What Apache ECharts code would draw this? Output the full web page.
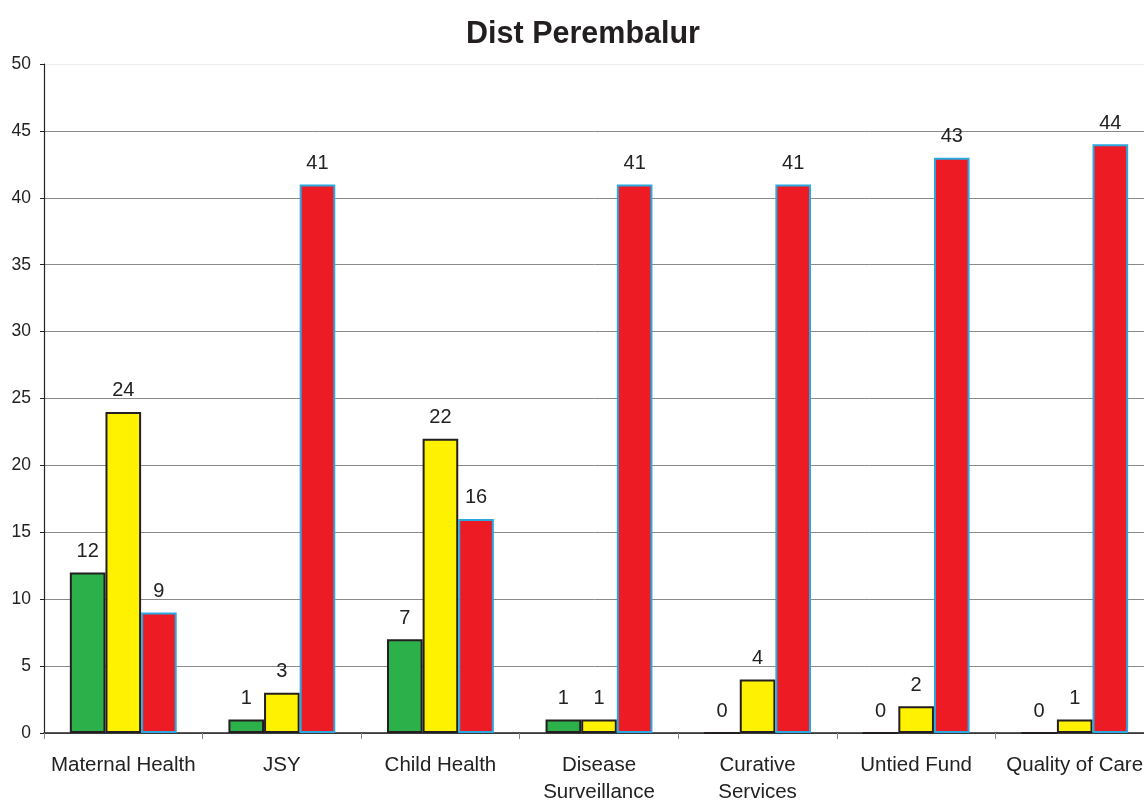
<!DOCTYPE html>
<html>
<head>
<meta charset="utf-8">
<script src="https://cdn.jsdelivr.net/npm/echarts@6/dist/echarts.min.js"></script>
<style>
  html, body { margin: 0; padding: 0; background: #fff; overflow: hidden; }
  #chart { width: 1144px; height: 802px; }
</style>
</head>
<body>
<div id="chart"></div>
<script>
// Programme areas assessed in the district
const categories = ['Maternal Health', 'JSY', 'Child Health', 'Disease\nSurveillance', 'Curative\nServices', 'Untied Fund', 'Quality of Care'];
const greenValues = [12, 1, 7, 1, 0, 0, 0];
const yellowValues = [24, 3, 22, 1, 4, 2, 1];
const redValues = [9, 41, 16, 41, 41, 43, 44];
const yTicks = { min: 0, max: 50, interval: 5 };

const chart = echarts.init(document.getElementById('chart'), null, { renderer: 'canvas', width: 1144, height: 802 });

const FONT = 'Liberation Sans, Arial, Helvetica, sans-serif';

const labelStyle = {
  show: true,
  position: 'top',
  distance: 11,
  color: '#222',
  fontSize: 20,
  fontFamily: FONT
};

function barSeries(name, data, fill, border) {
  return {
    name: name,
    type: 'bar',
    data: data,
    barGap: '0%',
    barCategoryGap: '32.6%',
    itemStyle: { color: fill, borderColor: border, borderWidth: 2 },
    label: labelStyle,
    emphasis: { disabled: true }
  };
}

// horizontal grid lines: grey, with the top one faint
const gridColors = [];
for (let v = yTicks.min; v <= yTicks.max; v += yTicks.interval) {
  gridColors.push(v === yTicks.max ? '#eeeeee' : '#8a8a8a');
}

chart.setOption({
  backgroundColor: '#ffffff',
  animation: false,
  title: {
    text: 'Dist Perembalur',
    left: 578,
    top: 14,
    textAlign: 'center',
    textStyle: { fontFamily: FONT, fontSize: 30.5, fontWeight: 'bold', color: '#231f20' }
  },
  // plot area runs past the right edge, so the last category is clipped
  grid: {
    left: 44, top: 64, width: 1110, height: 669,
    containLabel: false,
    outerBoundsMode: 'none'
  },
  xAxis: {
    type: 'category',
    data: categories,
    axisLine: { show: true, lineStyle: { color: '#222', width: 1.5 } },
    axisTick: { show: true, length: 6, lineStyle: { color: '#888' } },
    axisLabel: {
      color: '#222', fontSize: 20.5, fontFamily: FONT, margin: 18.5,
      lineHeight: 27.5, interval: 0
    },
    splitLine: { show: false }
  },
  yAxis: {
    type: 'value',
    min: yTicks.min,
    max: yTicks.max,
    interval: yTicks.interval,
    axisLine: { show: true, lineStyle: { color: '#222', width: 1.2 } },
    axisTick: { show: true, length: 4, lineStyle: { color: '#222' } },
    axisLabel: { color: '#222', fontSize: 17.5, fontFamily: FONT, margin: 13 },
    splitLine: { show: true, lineStyle: { color: gridColors, width: 1 } }
  },
  series: [
    barSeries('Green', greenValues, '#2cb04a', '#231f20'),
    barSeries('Yellow', yellowValues, '#fff200', '#231f20'),
    barSeries('Red', redValues, '#ed1c24', '#2aa8df')
  ]
});
</script>
</body>
</html>
